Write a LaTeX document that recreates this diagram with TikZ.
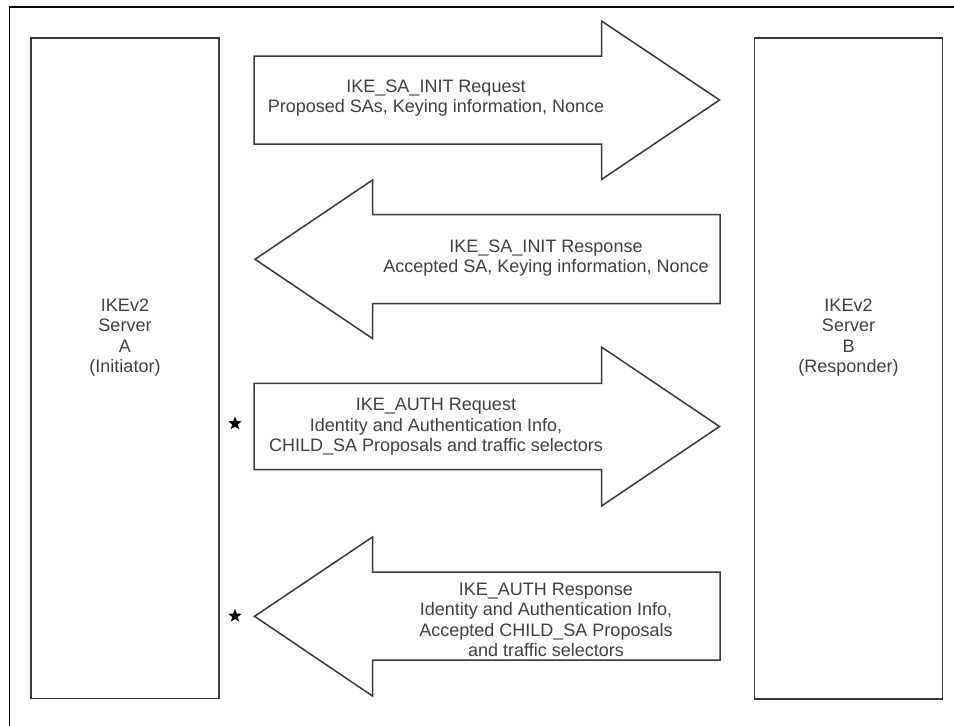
\documentclass[tikz,border=0pt]{standalone}
\usepackage{fontspec}
\setmainfont{Liberation Sans}
\usetikzlibrary{shapes.geometric}
\definecolor{linegray}{HTML}{3A3A3A}
\definecolor{textgray}{HTML}{404040}
\begin{document}
\begin{tikzpicture}[x=1pt,y=-1pt,
  frameline/.style={draw=black,line width=1.6pt},
  serverbox/.style={draw=linegray,line width=1.6pt},
  bigarrow/.style={draw=linegray,line width=1.5pt,line join=miter},
  msg/.style={text=textgray,align=center,inner sep=0pt,
    font=\fontsize{18}{20.5}\selectfont},
  marker/.style={star,star points=5,star point ratio=2.3,fill=black,
    minimum size=14pt,inner sep=0pt}]
\useasboundingbox (0,0) rectangle (954,726);
\fill[white] (0,0) rectangle (954,726);

% outer frame
\draw[frameline] (9.5,726) -- (9.5,7) -- (954,7);

% the two IKEv2 servers
\draw[serverbox] (31,38) rectangle (219,698.5);
\draw[serverbox] (754.5,38) rectangle (942.5,699);
\node[msg] (srvA) at (125,337.5) {IKEv2\\Server\\A\\(Initiator)};
\node[msg] (srvB) at (848.5,337.5) {IKEv2\\Server\\B\\(Responder)};

% message 1: A -> B
\draw[bigarrow] (254,56) -- (601.5,56) -- (601.5,21) -- (719.5,100)
  -- (601.5,179.5) -- (601.5,144) -- (254,144) -- cycle;
\node[msg] (m1) at (436,98) {IKE\_SA\_INIT Request\\Proposed SAs, Keying information, Nonce};

% message 2: B -> A
\draw[bigarrow] (720,214.5) -- (372.5,214.5) -- (372.5,180) -- (255,259.3)
  -- (372.5,338.5) -- (372.5,303.5) -- (720,303.5) -- cycle;
\node[msg] (m2) at (546,258) {IKE\_SA\_INIT Response\\Accepted SA, Keying information, Nonce};

% message 3: A -> B
\draw[bigarrow] (254,383.3) -- (601.5,383.3) -- (601.5,347) -- (719.5,426.5)
  -- (601.5,506) -- (601.5,469.5) -- (254,469.5) -- cycle;
\node[msg] (m3) at (436,427) {IKE\_AUTH Request\\Identity and Authentication Info,\\CHILD\_SA Proposals and traffic selectors};
\node[marker] (s3) at (235,423.5) {};

% message 4: B -> A
\draw[bigarrow] (720,572) -- (372.5,572) -- (372.5,537) -- (254.5,616.3)
  -- (372.5,696) -- (372.5,660) -- (720,660) -- cycle;
\node[msg] (m4) at (546,620) {IKE\_AUTH Response\\Identity and Authentication Info,\\Accepted CHILD\_SA Proposals\\and traffic selectors};
\node[marker] (s4) at (235,616) {};
\end{tikzpicture}
\end{document}
